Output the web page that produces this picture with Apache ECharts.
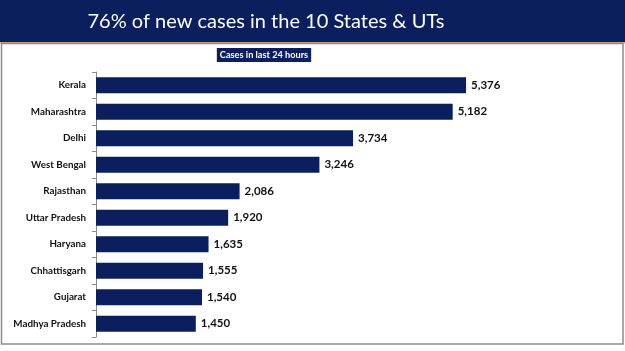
<!DOCTYPE html>
<html><head><meta charset="utf-8">
<script src="https://cdn.jsdelivr.net/npm/echarts@6/dist/echarts.min.js"></script>
<style>html,body{margin:0;padding:0;background:#fff}#c{width:625px;height:351px}</style>
</head><body><div id="c"></div>
<script>
const categories = ["Kerala","Maharashtra","Delhi","West Bengal","Rajasthan","Uttar Pradesh","Haryana","Chhattisgarh","Gujarat","Madhya Pradesh"];
const cases = [5376,5182,3734,3246,2086,1920,1635,1555,1540,1450];
const titleText = "76% of new cases in the 10 States & UTs";
const subtitleText = "Cases in last 24 hours";

const chart = echarts.init(document.getElementById('c'), null, {renderer:'canvas'});
chart.setOption({
  animation:false,
  backgroundColor:'#fff',
  graphic:[
    {type:'rect', shape:{x:0,y:0,width:625,height:42}, style:{fill:'#0b1f5e'}, z:-1},
    {type:'rect', shape:{x:0,y:42,width:625,height:1.5}, style:{fill:'#d9a66a'}, z:-1},
    {type:'rect', shape:{x:1.5,y:43.5,width:621.5,height:300.5}, style:{fill:'none',stroke:'#8c8c8c',lineWidth:1.5}, z:-1}
  ],
  title:[
    {text:titleText, left:261, top:7, textAlign:'center',
     textStyle:{color:'#fff',fontFamily:'Lato',fontWeight:'normal',fontSize:20}},
    {text:subtitleText, left:261, top:48, textAlign:'center', backgroundColor:'#0b1f5e', padding:[2,3,2,3],
     textStyle:{color:'#fff',fontFamily:'Lato',fontWeight:'bold',fontSize:9.2,lineHeight:10}}
  ],
  grid:{left:96, top:72, width:413, height:265, containLabel:false},
  xAxis:{type:'value', min:0, max:6000, show:false},
  yAxis:{type:'category', data:categories, inverse:true,
    axisLine:{show:true, lineStyle:{color:'#8c8c8c',width:1}},
    axisTick:{show:true, length:4, lineStyle:{color:'#8c8c8c'}},
    axisLabel:{margin:10, color:'#111', fontFamily:'Lato', fontWeight:'bold', fontSize:9.8}
  },
  series:[{type:'bar', data:cases, barWidth:16, itemStyle:{color:'#0b1f5e'},
    label:{show:true, position:'right', distance:5, color:'#111', fontFamily:'Lato', fontWeight:'bold', fontSize:11.5,
      formatter:p=>p.value.toLocaleString('en-US')}}]
});
</script></body></html>
